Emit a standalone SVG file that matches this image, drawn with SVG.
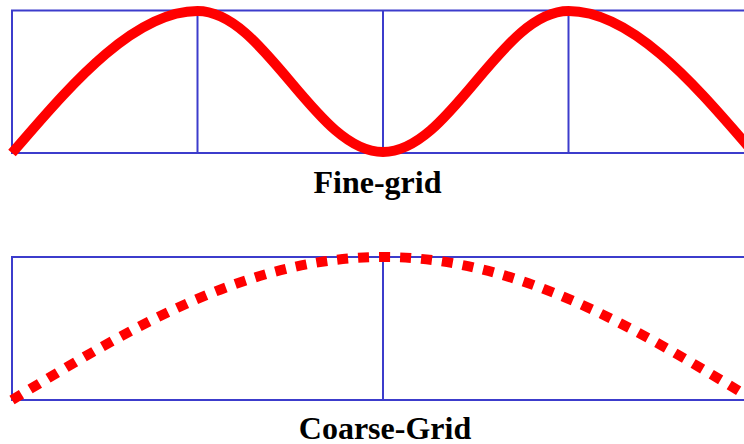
<svg xmlns="http://www.w3.org/2000/svg" width="744" height="444" viewBox="0 0 744 444">
<style>
.grid{fill:none;stroke:#3c3ccc;stroke-width:2}
.fine{fill:none;stroke:#ff0000;stroke-width:10;stroke-linecap:butt}
.coarse{fill:none;stroke:#ff0000;stroke-width:10;stroke-dasharray:11 10;stroke-linecap:butt}
.lbl{font-family:"Liberation Serif","Times New Roman",serif;font-weight:bold;font-size:32px;fill:#000;text-anchor:middle}
</style>
<rect width="744" height="444" fill="#fff"/>
<g id="fine-grid">
<rect class="grid" x="12" y="10.5" width="742" height="142.5"/>
<line class="grid" x1="197.5" y1="10.5" x2="197.5" y2="153"/>
<line class="grid" x1="383" y1="10.5" x2="383" y2="153"/>
<line class="grid" x1="568.5" y1="10.5" x2="568.5" y2="153"/>
</g>
<g id="coarse-grid">
<rect class="grid" x="12" y="257" width="742" height="143"/>
<line class="grid" x1="383" y1="257" x2="383" y2="400"/>
</g>
<g id="curves">
<path class="fine" d="M12,153 C62,96 130,11 197.5,11 C231.07,11 260,45.4 290.25,81.5 C320.5,117.6 349.43,152 383,152 C416.57,152 445.5,117.6 475.75,81.5 C506,45.4 534.93,11 568.5,11 C636,11 704,96 754,153"/>
<path class="coarse" d="M12,400 C133,326.74 248.73,257 383,257 C517.27,257 633,326.74 754,400"/>
</g>
<g id="labels">
<text class="lbl" x="377.5" y="193">Fine-grid</text>
<text class="lbl" x="385" y="438.5">Coarse-Grid</text>
</g>
</svg>
